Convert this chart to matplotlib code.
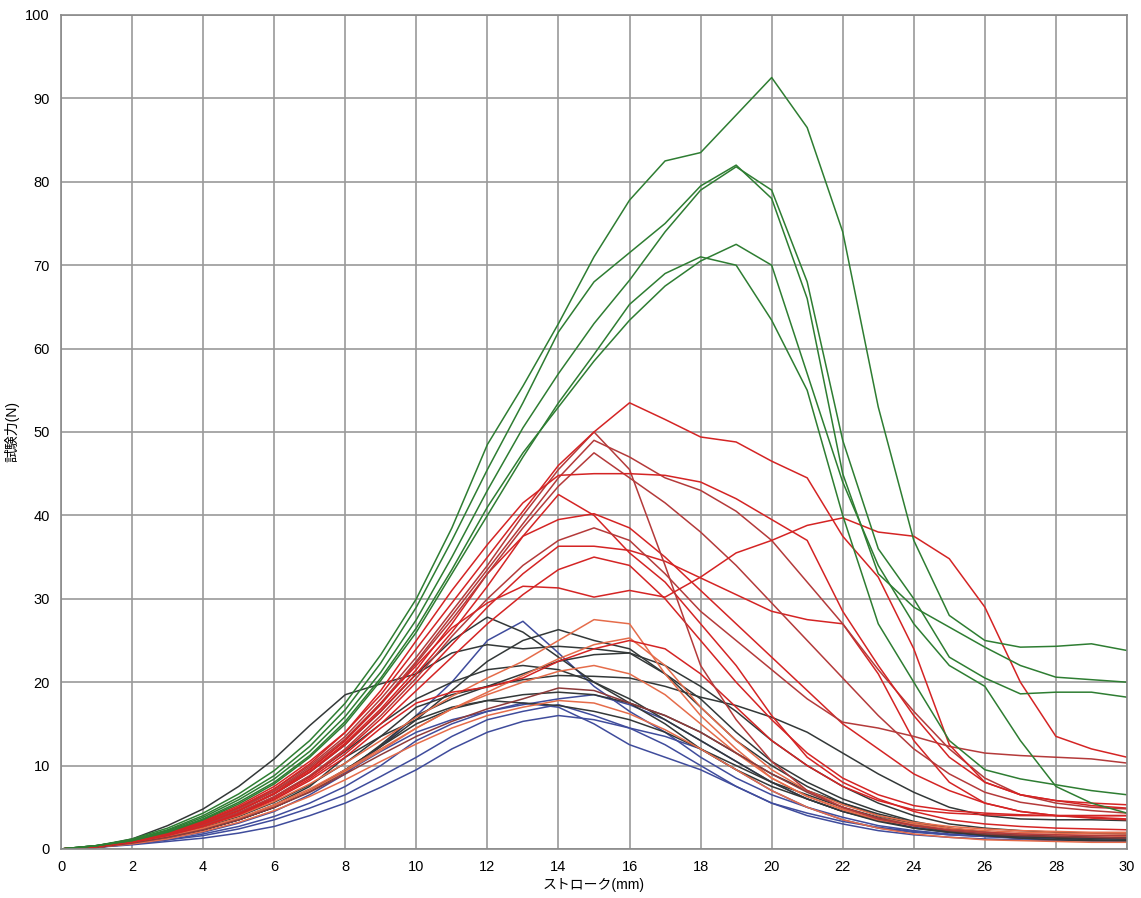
import matplotlib
matplotlib.use("Agg")
import matplotlib.pyplot as plt

plt.rcParams['font.family'] = ['Liberation Sans', 'Noto Sans CJK JP', 'DejaVu Sans']

stroke = list(range(31))  # mm

# green group
g1 = [0,0.4,1.2,2.5,4.3,6.6,9.4,13,17.5,23.3,30,38.5,48.5,55.5,63,71,77.8,82.5,83.5,88,92.5,86.5,74,53,37,28,25,24.2,24.3,24.6,23.8]
g2 = [0,0.4,1.1,2.3,4,6.2,8.8,12.3,16.7,22.3,29,37,45.5,53.5,62,68,71.5,75,79.5,82,78,66,45,33,29,26.6,24.2,22,20.6,20.3,20]
g3 = [0,0.4,1.1,2.2,3.8,5.9,8.4,11.7,15.9,21.2,27.5,35,43,50.5,57,63,68.2,74,79,81.8,79,68,49,36,30,23,20.5,18.6,18.8,18.8,18.2]
g4 = [0,0.4,1,2.1,3.6,5.6,8,11.2,15.3,20.5,26.5,33.5,41,47.5,53,58.5,63.4,67.5,70.5,72.5,70,57,44,34,27,22,19.5,13,7.5,5.5,4.3]
g5 = [0,0.4,1,2,3.5,5.4,7.8,11,15,20.2,26,33,40,47,53.5,59.3,65.3,69,71,70,63.4,55,40,27,20,13,9.5,8.4,7.7,7,6.5]

# red group
r_a = [0,0.3,1,2,3.4,5.2,7.5,10.5,14,18.5,24,29.5,35,40.5,46,50,53.5,51.5,49.4,48.8,46.5,44.5,37.5,32.6,24,12.5,8,6.5,5.8,5.5,5.3]
r_b = [0,0.3,1,2,3.3,5,7.2,10,13.5,18,23,28.5,34,40,45.5,50,45.5,34,22,15.5,10.5,7,5,3.6,2.8,2.3,2,1.8,1.7,1.6,1.6]
r_c = [0,0.3,1,1.9,3.2,4.9,7,9.8,13.2,17.5,22.5,28,33.5,39,44.5,49,47,44.5,43,40.5,37,32,27,21.5,16.5,12,8.5,6.5,5.5,5,4.8]
r_d = [0,0.3,0.9,1.9,3.2,5,7.2,10.2,14,19,25,31,36.5,41.5,44.8,45,45,44.8,44,42,39.5,37,28.5,22,16,11,8,6.5,5.8,5.2,4.9]
r_e = [0,0.3,0.9,1.8,3,4.6,6.7,9.5,13,17.5,22,26.5,29.5,31.5,31.3,30.2,31,30.2,32.6,35.5,37,38.8,39.7,38,37.5,34.8,29,20,13.5,12,11]
r_f = [0,0.3,0.9,1.8,3,4.6,6.6,9.3,12.7,16.8,21.5,27,33,37.5,39.5,40.2,38.5,35,31,27,23,19,15,12,9,7,5.5,4.5,4,3.7,3.5]
r_g = [0,0.3,0.9,1.8,2.9,4.4,6.3,8.8,12,16,20.5,25.5,30,34,37,38.5,37,33,28.5,25,21.5,18,15.2,14.5,13.5,12.3,11.5,11.2,11,10.8,10.3]
r_h = [0,0.3,0.9,1.7,2.8,4.3,6.2,8.6,11.8,15.6,20,24.5,29,33,36.3,36.3,35.8,34.5,32.5,30.5,28.5,27.5,27,21,13,8,5.5,4.5,4,3.8,3.6]
r_j = [0,0.3,0.9,1.8,3,4.6,6.6,9.2,12.5,16.5,21,26,31.5,37.5,42.5,40,35.5,32,27,22,16,11,8,6,4.5,3.5,3,2.7,2.5,2.4,2.3]
r_k = [0,0.3,0.9,1.8,3.1,4.8,6.9,9.6,13,17.3,22.3,27.5,33,38.5,43.5,47.5,44.5,41.5,38,34,29.5,25,20.5,16,12,9,6.8,5.6,5,4.6,4.3]
r_i = [0,0.3,0.8,1.7,2.8,4.2,6,8.4,11.4,15,19,23,27,30.5,33.5,35,34,30,25,20,15.5,11.5,8.5,6.5,5.2,4.6,4.3,4.1,4,4,4]
r_m = [0,0.3,0.8,1.6,2.7,4.1,5.9,8.2,11,14.5,17.5,18.8,19.4,20.5,22.5,24,25,24,21,17,13,10,7.5,5.8,4.7,4.3,4.1,4,4,4,4]

# orange / brown group
o1 = [0,0.3,0.8,1.6,2.7,4,5.7,7.8,10.3,13,15.8,18.3,20.5,22.5,25,27.5,27,21,16,12,8.5,6.3,4.7,3.5,2.8,2.3,2,1.8,1.7,1.6,1.5]
o2 = [0,0.3,0.7,1.4,2.4,3.6,5.1,7,9.3,11.8,14.5,16.8,18.8,20.8,22.8,24.5,25.3,22,17,13,9.5,7,5.3,4,3.2,2.7,2.4,2.2,2.1,2,2]
o3 = [0,0.2,0.7,1.4,2.3,3.5,5,6.8,9,11.3,13.5,15.3,16.8,18,19.3,19,17.5,16,14,11.5,9,6.8,5,3.7,2.8,2.2,1.8,1.6,1.5,1.4,1.3]
o4 = [0,0.3,0.7,1.5,2.5,3.7,5.3,7.2,9.5,12,14.5,16.8,18.5,20,21.3,22,21,18.5,15,11.5,8.5,6.3,4.8,3.7,3,2.5,2.2,2,1.9,1.8,1.8]
o5 = [0,0.2,0.6,1.2,2.1,3.2,4.6,6.3,8.3,10.5,12.6,14.5,16,17,17.8,17.5,16.2,14.3,12,9.5,7,5,3.5,2.5,1.8,1.4,1.1,1,0.9,0.8,0.8]

# black group
k1 = [0,0.3,1.2,2.8,4.8,7.5,10.8,14.8,18.5,19.8,21,25,27.8,26,23,20,17.5,15,12,9.5,7.5,6,4.5,3.5,2.5,2,1.7,1.5,1.4,1.3,1.2]
k2 = [0,0.3,0.8,1.5,2.3,3.5,5,7,9.5,12.3,15.5,19,22.5,25,26.3,25,24,21,17,13,10,7.5,5.5,4,3,2.2,1.8,1.5,1.3,1.1,1]
k3 = [0,0.3,0.9,1.8,3,4.6,6.6,9.2,12.5,16.5,21,23.5,24.5,24,24.3,24,23.5,21,18,14,10.5,8,6,4.5,3.3,2.5,2,1.7,1.5,1.4,1.3]
k4 = [0,0.3,0.8,1.6,2.6,3.9,5.6,7.7,10.3,13.5,17,18.5,19.5,20.3,20.8,20.7,20.5,19.5,18.2,17.2,15.8,14,11.5,9,6.8,5,4,3.6,3.5,3.5,3.4]
k5 = [0,0.2,0.7,1.4,2.3,3.5,5,7,9.5,12.3,15,16.8,17.8,18.5,18.8,18.5,17.5,16,14,11.5,9,7,5.5,4.2,3.2,2.5,2,1.7,1.5,1.4,1.3]
k6 = [0,0.2,0.7,1.4,2.3,3.6,5.3,7.5,11,13.5,15.5,17,17.8,17.5,17.2,16.5,15.5,14,12,10,8,6.5,5,3.8,2.8,2.1,1.6,1.3,1.1,1,1]
k7 = [0,0.2,0.7,1.4,2.3,3.5,5,6.9,9.3,12.5,16,18,19.5,21,22.5,23.3,23.5,22,19.5,16.5,13,10,7.5,5.5,4,3,2.5,2.2,2,1.9,1.8]
k8 = [0,0.3,0.8,1.6,2.7,4.2,6.2,8.7,11.7,15,18,20,21.5,22,21.5,20,18,15.5,13,10.5,8,6,4.5,3.3,2.5,2,1.7,1.5,1.4,1.3,1.2]

# blue group
b1 = [0,0.2,0.7,1.3,2,3.1,4.5,6.5,9,12.3,16,20,25,27.3,23.5,19.5,16.5,14,11,8.5,6.5,5,3.8,2.8,2.2,1.8,1.5,1.3,1.1,1,1]
b2 = [0,0.2,0.6,1.1,1.6,2.4,3.5,4.9,6.5,8.7,11,13.5,15.5,16.5,17.3,16,14.5,12.5,10,7.5,5.5,4,3,2.2,1.7,1.4,1.2,1.1,1,1,1]
b3 = [0,0.2,0.5,0.9,1.3,1.9,2.7,4,5.5,7.4,9.5,12,14,15.3,16,15.5,14.5,13.5,12,9.5,7,5,3.5,2.5,2,1.7,1.5,1.4,1.4,1.4,1.4]
b4 = [0,0.2,0.6,1.1,1.8,2.7,3.9,5.5,7.5,10,13,15,16.5,17.5,17,15,12.5,11,9.5,7.5,5.5,4.3,3.3,2.6,2.1,1.7,1.5,1.3,1.2,1.2,1.2]
b5 = [0,0.2,0.7,1.4,2.3,3.5,5,6.9,9.2,11.7,14,15.5,16.5,17.3,18,18.5,17.3,15.5,13,10.5,8,6,4.5,3.4,2.6,2,1.6,1.3,1.1,1,0.9]

green = '#2e7d32'
red = '#d42424'
dark_red = '#b43a3a'
orange = '#e56c4a'
brown = '#8e3a3a'
black = '#333838'
blue = '#3f4c9c'
lw = 1.1

fig = plt.figure(figsize=(11.41, 8.98), dpi=100)
ax = fig.add_axes([0.0535, 0.0546, 0.9342, 0.9287])

for ys in [b3, b2, b4, b5, b1]:
    ax.plot(stroke, ys, color=blue, lw=lw)
for ys in [k6, k5, k8, k4, k7, k3, k2, k1]:
    ax.plot(stroke, ys, color=black, lw=lw)
for ys in [o5, o4, o2, o1]:
    ax.plot(stroke, ys, color=orange, lw=lw)
ax.plot(stroke, o3, color=brown, lw=lw)
for ys in [r_m, r_i, r_h, r_f, r_j]:
    ax.plot(stroke, ys, color=red, lw=lw)
for ys in [r_g, r_k, r_c, r_b]:
    ax.plot(stroke, ys, color=dark_red, lw=lw)
for ys in [r_e, r_d, r_a]:
    ax.plot(stroke, ys, color=red, lw=lw)
for ys in [g5, g4, g3, g2, g1]:
    ax.plot(stroke, ys, color=green, lw=lw)

ax.set_xlim(0, 30)
ax.set_ylim(0, 100)
ax.set_xticks(range(0, 31, 2))
ax.set_yticks(range(0, 101, 10))
ax.grid(True, color='#9a9a9a', lw=1.2)
ax.set_axisbelow(True)
ax.tick_params(length=0, labelsize=10.5, pad=8)
for s in ax.spines.values():
    s.set_color('#8a8a8a')
    s.set_linewidth(1.2)

ax.set_xlabel('ストローク(mm)', fontsize=10, labelpad=3)
ax.set_ylabel('試験力(N)', fontsize=10, labelpad=4)

plt.savefig('out.png', dpi=100)
